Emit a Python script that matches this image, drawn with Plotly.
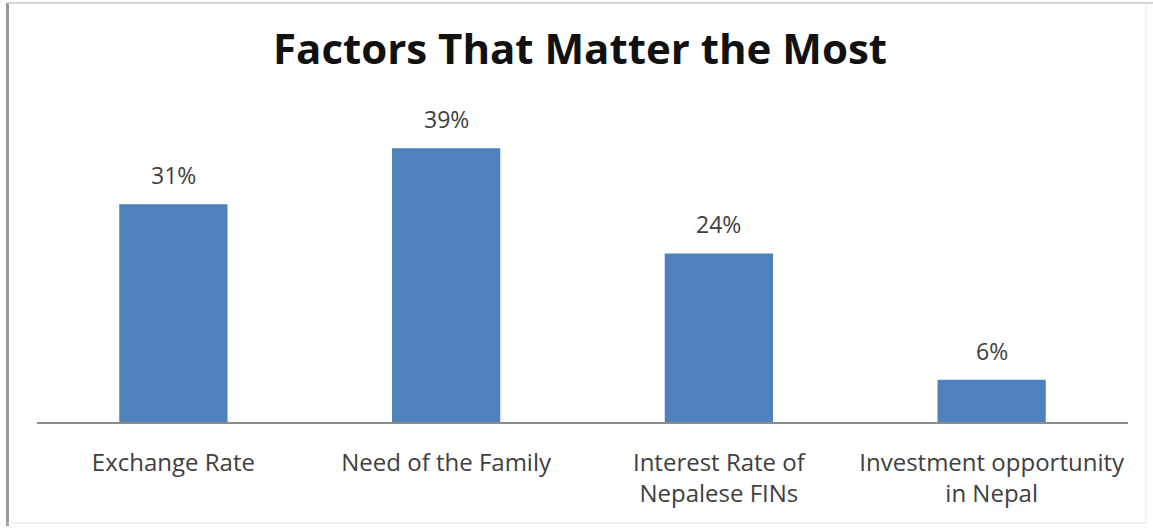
import plotly.graph_objects as go

categories = ["Exchange Rate", "Need of the Family",
              "Interest Rate of<br>Nepalese FINs", "Investment opportunity<br>in Nepal"]
values = [31, 39, 24, 6]
value_labels = ["31%", "39%", "24%", "6%"]

W, H = 1153, 531
ml, mr, mt, mb = 37, 25, 106, 109
FONT = "Open Sans, Lato, sans-serif"

fig = go.Figure(go.Bar(
    x=categories, y=values,
    marker=dict(color="#4F81BD", line=dict(width=0)),
    cliponaxis=False,
))

# value labels placed above each bar
annotations = [dict(x=c, y=v, text=t, showarrow=False, xref="x", yref="y",
                    yanchor="bottom", yshift=11,
                    font=dict(family=FONT, size=23, color="#404040"))
               for c, v, t in zip(categories, values, value_labels)]

def px_x(p):
    return (p - ml) / (W - ml - mr)

def px_y(p):
    return (H - mb - p) / (H - mt - mb)

frame = [
    (px_x(7.5), px_y(3), px_x(7.5), px_y(526), "#9a9a9a", 3),
    (px_x(7), px_y(3), px_x(1153), px_y(3), "#c8c8c8", 1.5),
    (px_x(1146), px_y(3), px_x(1146), px_y(524), "#e6e6e6", 1),
    (px_x(7), px_y(523), px_x(1146), px_y(523), "#e6e6e6", 1),
]
shapes = [dict(type="line", xref="paper", yref="paper", x0=a, y0=b, x1=c, y1=d,
               line=dict(color=col, width=w)) for a, b, c, d, col, w in frame]

fig.update_layout(
    width=W, height=H,
    margin=dict(l=ml, r=mr, t=mt, b=mb),
    paper_bgcolor="white", plot_bgcolor="white",
    bargap=0.603,
    showlegend=False,
    shapes=shapes,
    annotations=annotations,
    title=dict(text="<b>Factors That Matter the Most</b>",
               x=580 / W, xanchor="center", y=1 - 49 / H, yanchor="middle",
               font=dict(family=FONT, size=42, color="#111111")),
    xaxis=dict(showline=True, linecolor="#8c8c8c", linewidth=1.5,
               ticks="", showgrid=False, ticklabelstandoff=18,
               tickfont=dict(family=FONT, size=24, color="#404040")),
    yaxis=dict(range=[0, 45], visible=False, showgrid=False, zeroline=False),
)

fig.write_html("out.html")
